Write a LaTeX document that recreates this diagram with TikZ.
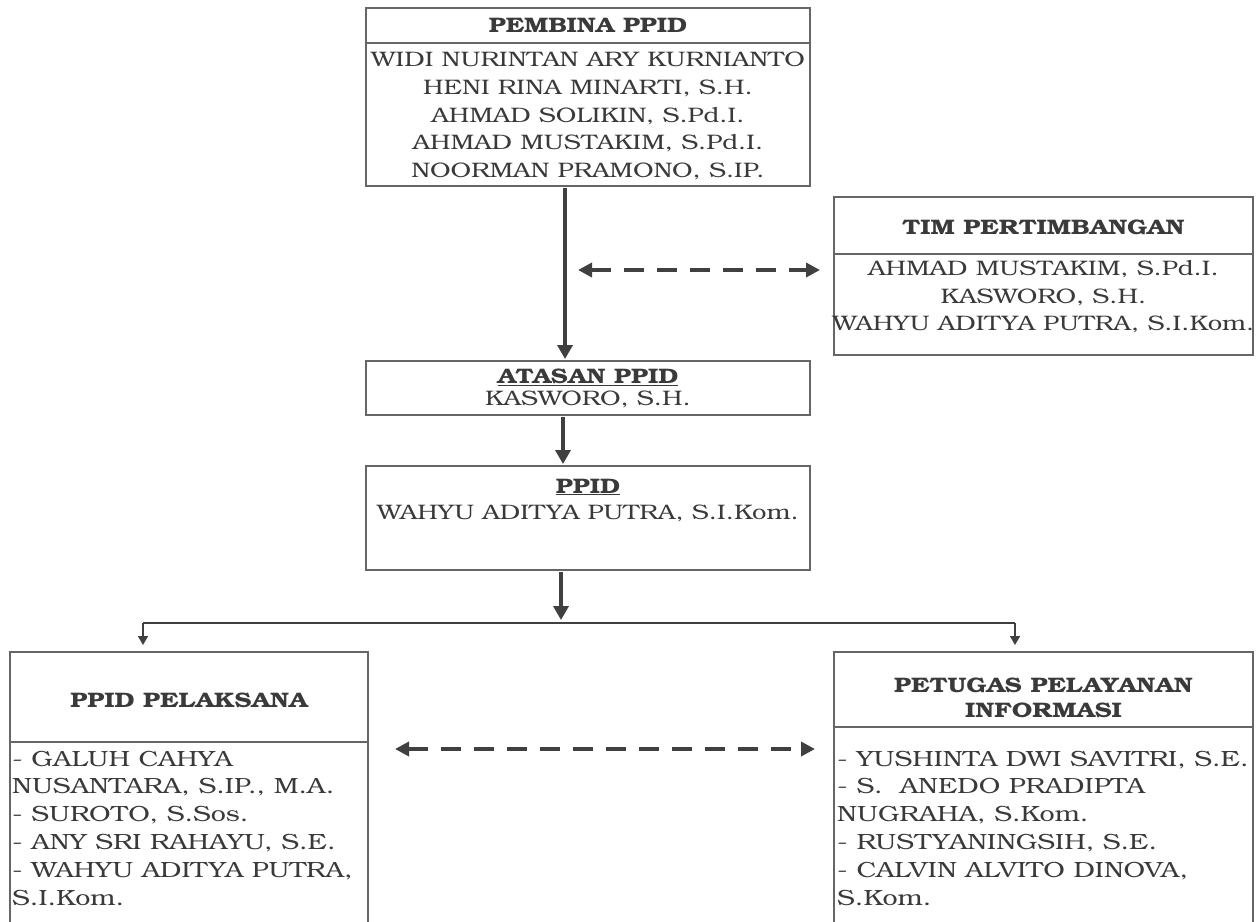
\documentclass[tikz,border=0pt]{standalone}
\usepackage{fontspec}
\setmainfont{texgyrebonum}[Extension=.otf,UprightFont=*-regular,BoldFont=*-bold,ItalicFont=*-italic,BoldItalicFont=*-bolditalic,FakeStretch=1.22]
\usetikzlibrary{arrows.meta,calc}
\definecolor{txt}{HTML}{3A3A3A}
\definecolor{linec}{HTML}{666666}
\definecolor{arrc}{HTML}{404040}
\tikzset{
  box/.style={draw=linec, line width=1.5pt, inner sep=0pt, outer sep=0pt, rectangle},
  divider/.style={draw=linec, line width=1.3pt},
  hdr/.style={text=txt, font=\fontsize{21}{25}\selectfont\bfseries, align=center, inner sep=0pt},
  body/.style={text=txt, font=\fontsize{21}{27.6}\selectfont, align=center, inner sep=0pt},
  lbody/.style={text=txt, font=\fontsize{22}{27.8}\selectfont, align=left, inner sep=0pt},
  thickarrow/.style={draw=arrc, line width=4pt, -{Triangle[length=14pt,width=15pt]}},
  thinarrow/.style={draw=arrc, line width=1.5pt, -{Triangle[length=9pt,width=10pt]}},
  dasharrow/.style={draw=arrc, line width=4pt, dash pattern=on 20pt off 13pt, {Triangle[length=14pt,width=14pt]}-{Triangle[length=14pt,width=14pt]}},
}
\begin{document}
\begin{tikzpicture}[x=1pt,y=-1pt]
\useasboundingbox (0,0) rectangle (1257,921);
\fill[white] (0,0) rectangle (1257,921);
\clip (0,0) rectangle (1257,921);

% boxes
\node[box, minimum width=444pt, minimum height=178pt] (pembina) at (588,97) {};
\node[box, minimum width=419pt, minimum height=158pt] (tim) at (1043.5,276) {};
\node[box, minimum width=444pt, minimum height=54pt] (atasan) at (588,388) {};
\node[box, minimum width=444pt, minimum height=104pt] (ppid) at (588,518) {};
\node[box, minimum width=358pt, minimum height=290pt] (pelaksana) at (189,797) {};
\node[box, minimum width=419pt, minimum height=290pt] (petugas) at (1043.5,797) {};

% dividers
\draw[divider] ($(pembina.north west)+(0,35)$) -- ($(pembina.north east)+(0,35)$);
\draw[divider] ($(tim.north west)+(0,57)$) -- ($(tim.north east)+(0,57)$);
\draw[divider] ($(pelaksana.north west)+(0,90)$) -- ($(pelaksana.north east)+(0,90)$);
\draw[divider] ($(petugas.north west)+(0,75)$) -- ($(petugas.north east)+(0,75)$);

% texts
\node[hdr] (pembinaH) at (588,25) {PEMBINA PPID};
\node[body] (pembinaB) at (588,116) {WIDI NURINTAN ARY KURNIANTO\\HENI RINA MINARTI, S.H.\\AHMAD SOLIKIN, S.Pd.I.\\AHMAD MUSTAKIM, S.Pd.I.\\NOORMAN PRAMONO, S.IP.};

\node[hdr] (timH) at (1043.5,227) {TIM PERTIMBANGAN};
\node[body] (timB) at (1043.5,297) {AHMAD MUSTAKIM, S.Pd.I.\\KASWORO, S.H.\\WAHYU ADITYA PUTRA, S.I.Kom.};

\node[hdr] (atasanH) at (588,377) {\underline{ATASAN PPID}};
\node[body] (atasanB) at (588,399) {KASWORO, S.H.};

\node[hdr] (ppidH) at (588,487) {\underline{PPID}};
\node[body] (ppidB) at (588,513) {WAHYU ADITYA PUTRA, S.I.Kom.};

\node[hdr] (pelH) at (189,700) {PPID PELAKSANA};
\node[lbody, anchor=west] (pelB) at (12,828) {- GALUH CAHYA\\NUSANTARA, S.IP., M.A.\\- SUROTO, S.Sos.\\- ANY SRI RAHAYU, S.E.\\- WAHYU ADITYA PUTRA,\\S.I.Kom.};

\node[hdr] (petH) at (1043.5,697.5) {PETUGAS PELAYANAN\\INFORMASI};
\node[lbody, anchor=west] (petB) at (837,828) {- YUSHINTA DWI SAVITRI, S.E.\\- S.\ \ ANEDO PRADIPTA\\NUGRAHA, S.Kom.\\- RUSTYANINGSIH, S.E.\\- CALVIN ALVITO DINOVA,\\S.Kom.};

% connectors
\draw[thickarrow] ($(pembina.south)+(-23,2)$) -- ($(atasan.north)+(-23,-2)$);
\draw[thickarrow] ($(atasan.south)+(-25,2)$) -- ($(ppid.north)+(-25,-2)$);
\coordinate (bus) at (561,623);
\coordinate (busL) at (143,623);
\coordinate (busR) at (1015,623);
\draw[thickarrow] ($(ppid.south)+(-27,2)$) -- ($(bus)+(0,-3)$);
\draw[draw=arrc, line width=1.5pt] (busL) -- (busR);
\draw[thinarrow] (busL) -- ($(busL |- pelaksana.north)+(0,-7)$);
\draw[thinarrow] (busR) -- ($(busR |- petugas.north)+(0,-7)$);

\coordinate (d1) at ($(pembina.south)+(-10,84)$);
\draw[dasharrow] (d1) -- ($(tim.west |- d1)+(-14,0)$);
\coordinate (d2) at ($(pelaksana.east)+(27,-48)$);
\draw[dasharrow] (d2) -- ($(petugas.west |- d2)+(-19,0)$);
\end{tikzpicture}
\end{document}
